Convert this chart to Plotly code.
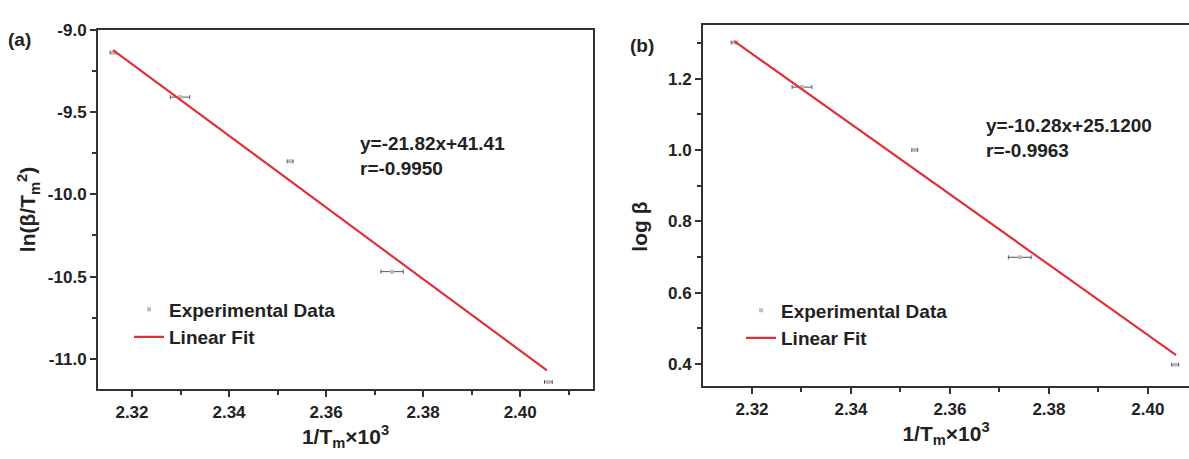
import plotly.graph_objects as go

# ---- data: panel (a) ----
xa = [2.3161, 2.3299, 2.3526, 2.3736, 2.4058]
ya = [-9.14, -9.41, -9.80, -10.47, -11.14]
xa_err = [0.0006, 0.0020, 0.0006, 0.0023, 0.0008]
fit_a_x = [2.3161, 2.4055]
fit_a_y = [-9.125, -11.07]

# ---- data: panel (b) ----
xb = [2.3164, 2.3301, 2.3529, 2.3741, 2.4055]
yb = [1.301, 1.176, 1.000, 0.699, 0.398]
xb_err = [0.0006, 0.0020, 0.0006, 0.0023, 0.0007]
fit_b_x = [2.3164, 2.4057]
fit_b_y = [1.305, 0.425]

# tick labels
x_tickvals = [2.32, 2.34, 2.36, 2.38, 2.40]
x_ticktext = ["2.32", "2.34", "2.36", "2.38", "2.40"]
ya_tickvals = [-9.0, -9.5, -10.0, -10.5, -11.0]
ya_ticktext = ["-9.0", "-9.5", "-10.0", "-10.5", "-11.0"]
yb_tickvals = [0.4, 0.6, 0.8, 1.0, 1.2]
yb_ticktext = ["0.4", "0.6", "0.8", "1.0", "1.2"]

eq_a = ["y=-21.82x+41.41", "r=-0.9950"]
eq_b = ["y=-10.28x+25.1200", "r=-0.9963"]

W, H = 1189, 459
FONT = "Liberation Sans, Arial, sans-serif"
AXC = "#333333"
RED = "#e0303c"
TXT = "#222222"

fig = go.Figure()

def add_panel(x, y, err, fx, fy, xaxis, yaxis, legend):
    fig.add_trace(go.Scatter(
        x=x, y=y, mode="markers", name="Experimental Data",
        marker=dict(size=4, color="#bbbbbb", symbol="square"),
        error_x=dict(type="data", array=err, visible=True, color="#555555",
                     thickness=1, width=2),
        xaxis=xaxis, yaxis=yaxis, legend=legend))
    fig.add_trace(go.Scatter(
        x=fx, y=fy, mode="lines", name="Linear Fit",
        line=dict(color=RED, width=2.2),
        xaxis=xaxis, yaxis=yaxis, legend=legend))

add_panel(xa, ya, xa_err, fit_a_x, fit_a_y, "x", "y", "legend")
add_panel(xb, yb, xb_err, fit_b_x, fit_b_y, "x2", "y2", "legend2")

tickfont = dict(family=FONT, size=17, color=TXT, weight="bold")
titlefont = dict(family=FONT, size=21, color=TXT, weight="bold")

def xax(domain, rng, anchor):
    return dict(domain=domain, range=rng, anchor=anchor,
                tickmode="array", tickvals=x_tickvals, ticktext=x_ticktext,
                ticks="outside", ticklen=6, tickwidth=2, tickcolor=AXC,
                minor=dict(ticks="outside", ticklen=4, tickwidth=2, tickcolor=AXC, dtick=0.01, tick0=2.32),
                showline=True, linewidth=2, linecolor=AXC, mirror=True,
                showgrid=False, zeroline=False, tickfont=tickfont,
                title=dict(text="1/T<sub>m</sub>×10<sup>3</sup>", font=titlefont, standoff=4))

def yax(domain, rng, anchor, vals, texts, tick0, mdtick, title, standoff, mirror):
    return dict(domain=domain, range=rng, anchor=anchor,
                tickmode="array", tickvals=vals, ticktext=texts,
                ticks="outside", ticklen=6, tickwidth=2, tickcolor=AXC,
                minor=dict(ticks="outside", ticklen=4, tickwidth=2, tickcolor=AXC, dtick=mdtick, tick0=tick0),
                showline=True, linewidth=2, linecolor=AXC, mirror=mirror,
                showgrid=False, zeroline=False, tickfont=tickfont,
                title=dict(text=title, font=titlefont, standoff=standoff))

legfont = dict(family=FONT, size=19, color=TXT, weight="bold")

fig.update_layout(
    width=W, height=H,
    margin=dict(l=0, r=0, t=0, b=0),
    paper_bgcolor="white", plot_bgcolor="white",
    font=dict(family=FONT, color=TXT),
    xaxis=xax([98 / W, 593 / W], [2.313, 2.415], "y"),
    yaxis=yax([1 - 388 / H, 1 - 21 / H], [-11.185, -9.0], "x", ya_tickvals, ya_ticktext,
              -9.0, 0.25, "ln(β/T<sub>m</sub><sup>2</sup>)", 6, True),
    xaxis2=xax([703 / W, 1.0], [2.3101, 2.4083], "y2"),
    yaxis2=yax([1 - 385 / H, 1 - 16 / H], [0.337, 1.351], "x2", yb_tickvals, yb_ticktext,
               1.2, 0.1, "", 10, False),
    legend=dict(x=129 / W, y=1 - 287 / H, xanchor="left", yanchor="top",
                bgcolor="rgba(0,0,0,0)", tracegroupgap=0, itemwidth=30,
                font=legfont),
    legend2=dict(x=741 / W, y=1 - 288 / H, xanchor="left", yanchor="top",
                 bgcolor="rgba(0,0,0,0)", tracegroupgap=0, itemwidth=30,
                 font=legfont),
    showlegend=True,
)

ann_font = dict(family=FONT, size=19, color=TXT, weight="bold")
fig.add_annotation(x=358 / W, y=1 - 150 / H, xref="paper", yref="paper",
                   text="<br>".join(eq_a), showarrow=False, xanchor="left", yanchor="middle",
                   align="left", font=ann_font)
fig.add_annotation(x=984 / W, y=1 - 132 / H, xref="paper", yref="paper",
                   text="<br>".join(eq_b), showarrow=False, xanchor="left", yanchor="middle",
                   align="left", font=ann_font)
fig.add_annotation(x=640 / W, y=1 - 222 / H, xref="paper", yref="paper",
                   text="log β", textangle=-90, showarrow=False,
                   xanchor="center", yanchor="middle", font=titlefont)
fig.add_annotation(x=6 / W, y=1 - 31 / H, xref="paper", yref="paper", text="(a)",
                   showarrow=False, xanchor="left", yanchor="middle",
                   font=dict(family=FONT, size=19, color=TXT, weight="bold"))
fig.add_annotation(x=628 / W, y=1 - 37 / H, xref="paper", yref="paper", text="(b)",
                   showarrow=False, xanchor="left", yanchor="middle",
                   font=dict(family=FONT, size=19, color=TXT, weight="bold"))

fig.write_html("out.html", config={"displayModeBar": False},
               post_script="document.body.style.margin='0';")
